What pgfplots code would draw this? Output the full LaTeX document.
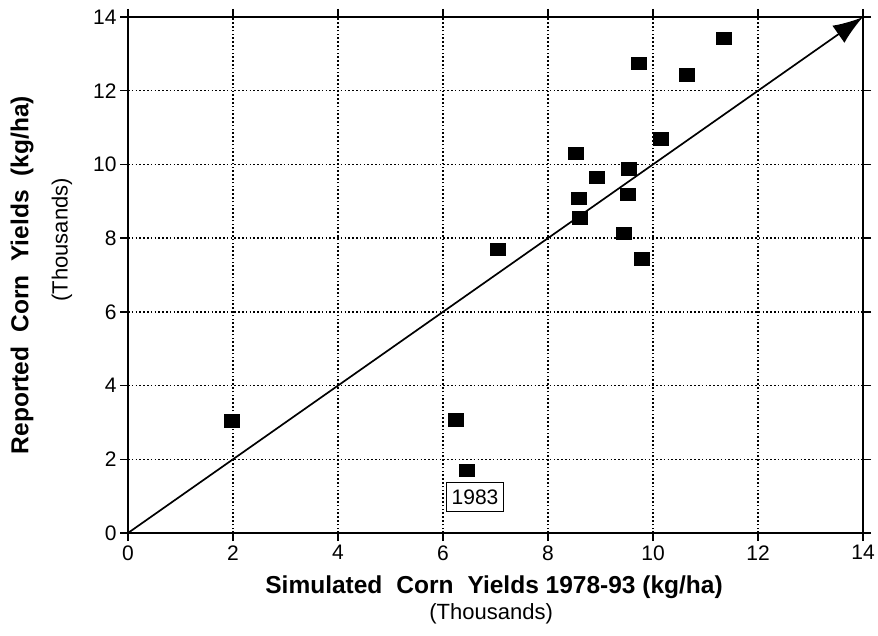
\documentclass[border=0pt]{standalone}
\usepackage{fontspec}
\setmainfont{Liberation Sans}
\usepackage{pgfplots}
\pgfplotsset{compat=1.18}
\usetikzlibrary{arrows.meta}

\begin{document}
\begin{tikzpicture}[x=1pt,y=1pt]
\begin{axis}[
  at={(128pt,102pt)}, anchor=south west,
  width=735pt, height=516pt, scale only axis,
  xmin=0, xmax=14, ymin=0, ymax=14,
  xtick={0,2,...,14}, ytick={0,2,...,14},
  grid=major,
  grid style={black, line width=1.5pt, dash pattern=on 1.6pt off 2.2pt},
  axis line style={line width=1.5pt},
  tick align=outside, major tick length=8pt,
  tick style={black, line width=1.3pt},
  ticklabel style={font=\fontsize{21}{23}\selectfont},
  xticklabel style={yshift=-1pt},
  /pgf/number format/assume math mode=true,
  clip=false,
]
\addplot[only marks, mark=square*, mark size=6.2pt, mark options={xscale=1.2, black}] coordinates {
(1.97, 3.05)
(6.25, 3.07)
(6.45, 1.71)
(7.05, 7.70)
(8.52, 10.31)
(8.58, 9.09)
(8.60, 8.56)
(8.93, 9.65)
(9.45, 8.13)
(9.52, 9.20)
(9.54, 9.88)
(9.73, 12.75)
(9.79, 7.44)
(10.15, 10.70)
(10.64, 12.43)
(11.35, 13.42)
};
\addplot[black, line width=1.7pt, -{Latex[length=30pt,width=21pt]}] coordinates {(0,0) (14,14)};

\node[draw, line width=1.4pt, inner xsep=5pt, inner ysep=7pt, fill=white, font=\fontsize{21}{23}\selectfont] at (axis cs:6.61,0.98) {1983};

\node[font=\bfseries\fontsize{24.5}{27}\selectfont] at (axis description cs:0.498,-0.105) {Simulated\hspace{14pt}Corn\hspace{14pt}Yields 1978-93 (kg/ha)};
\node[font=\fontsize{22}{24}\selectfont] at (axis description cs:0.494,-0.157) {(Thousands)};
\node[rotate=90, font=\bfseries\fontsize{24.5}{27}\selectfont] at (axis description cs:-0.144,0.5) {Reported\hspace{14pt}Corn\hspace{14pt}Yields\hspace{14pt}(kg/ha)};
\node[rotate=90, font=\fontsize{22}{24}\selectfont] at (axis description cs:-0.0898,0.568) {(Thousands)};
\end{axis}
\pgfresetboundingbox
\path[use as bounding box] (0,0) rectangle (878,635);
\end{tikzpicture}
\end{document}
